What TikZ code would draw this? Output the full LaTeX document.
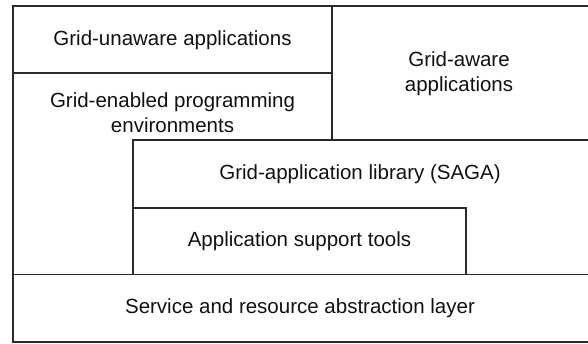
\documentclass[tikz,border=0pt]{standalone}
\usepackage{fontspec}
\setmainfont{Liberation Sans}
\definecolor{linec}{HTML}{2A2A2A}
\definecolor{textc}{HTML}{111111}
\tikzset{
  outerline/.style={draw=linec, line width=2pt},
  innerline/.style={draw=linec, line width=1.3pt},
  label/.style={text=textc, align=center, inner sep=0pt, font=\fontsize{20.5}{25}\selectfont}
}
\begin{document}
\begin{tikzpicture}[x=1pt,y=-1pt]
\clip (0,0) rectangle (588,344);
\useasboundingbox (0,0) rectangle (588,344);
% outer frame (right side runs off the picture)
\draw[outerline] (600,6) -- (13,6) -- (13,341.5) -- (600,341.5);
% inner layers
\draw[innerline] (13,73) -- (332,73);
\draw[innerline] (332,6) -- (332,140);
\draw[innerline] (600,140) -- (133,140) -- (133,274.5);
\draw[innerline] (133,208) -- (466,208) -- (466,274.5);
\draw[innerline] (13,274.5) -- (600,274.5);
% texts
\node[label] (unaware) at (172.5,40) {Grid-unaware applications};
\node[label] (aware) at (459,74) {Grid-aware\\applications};
\node[label] (enabled) at (172.5,112.5) {Grid-enabled programming\\environments};
\node[label] (saga) at (360,174.5) {Grid-application library (SAGA)};
\node[label] (support) at (299.5,241.5) {Application support tools};
\node[label] (service) at (300,308.5) {Service and resource abstraction layer};
\end{tikzpicture}
\end{document}
